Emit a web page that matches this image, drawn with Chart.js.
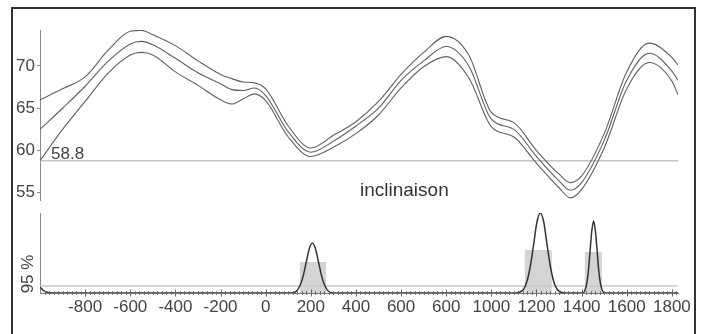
<!DOCTYPE html>
<html>
<head>
<meta charset="utf-8">
<script src="https://cdn.jsdelivr.net/npm/chart.js@4.4.0/dist/chart.umd.min.js"></script>
<style>
  html, body { margin: 0; padding: 0; background: #fff; }
  #wrap { position: relative; width: 706px; height: 334px; overflow: hidden; }
  #frame { position: absolute; left: 11px; top: 7px; width: 681px; height: 340px; border: 2px solid #333; }
  canvas { position: absolute; left: 0; top: 0; }
</style>
</head>
<body>
<div id="wrap">
  <div id="frame"></div>
  <canvas id="incChart" width="706" height="334"></canvas>
  <canvas id="probChart" width="706" height="334"></canvas>
</div>
<script>
// ages (years) where the inclination curve was read
const ages = [-1000, -900, -800, -700, -600, -550, -500, -400, -300, -200, -150, -100, -50, 0,
  100, 200, 300, 400, 500, 600, 700, 800, 900, 1000, 1100, 1200, 1300, 1350, 1400, 1500, 1600, 1700, 1800, 1827];
const incUpper = [66.0, 67.3, 68.7, 71.8, 74.1, 74.2, 73.7, 72.4, 70.6, 69.0, 68.5, 68.1, 68.0, 67.3,
  62.9, 60.3, 61.8, 63.4, 65.8, 69.0, 71.6, 73.5, 71.3, 64.5, 63.3, 60.0, 57.2, 56.2, 57.0, 62.0, 69.3, 72.7, 71.0, 70.1];
const incMean = [62.5, 65.0, 67.6, 70.5, 72.6, 72.9, 72.5, 70.9, 69.2, 67.9, 67.2, 67.1, 67.4, 66.5,
  62.2, 59.8, 61.1, 62.9, 65.0, 68.3, 70.6, 72.3, 70.0, 63.7, 62.5, 59.3, 56.4, 55.3, 56.2, 61.2, 68.3, 71.5, 69.4, 68.3];
const incLower = [58.8, 62.5, 65.8, 69.1, 71.3, 71.6, 71.3, 69.3, 67.7, 66.0, 65.5, 66.1, 66.7, 65.9,
  61.6, 59.3, 60.4, 62.0, 64.2, 67.4, 69.9, 71.1, 68.6, 62.8, 61.6, 58.5, 55.6, 54.4, 55.4, 60.3, 67.3, 70.4, 68.2, 66.6];
const refInclination = 58.8;

// probability density of the dating
const probAges = [-1000, -985, -965, -940,
  117, 137, 151, 165, 179, 193, 207, 221, 235, 249, 263, 277, 297,
  1107, 1127, 1142, 1157, 1172, 1187, 1202, 1217, 1232, 1247, 1262, 1277, 1292, 1307, 1327,
  1405, 1415, 1423, 1430, 1438, 1445, 1453, 1461, 1468, 1476, 1483, 1491, 1501, 1827];
const probDensity = [6, 2.5, 0.5, 0,
  0, 2, 7, 16, 30, 44, 50, 44, 30, 16, 7, 2, 0,
  0, 1, 3.5, 11, 26, 48, 71, 80, 71, 48, 26, 11, 3.5, 1, 0,
  0, 3, 10, 22, 44, 62, 72, 62, 44, 22, 10, 3, 0, 0];
const level95 = 7;
const intervalFrom = [152, 1147, 1413];
const intervalTo = [268, 1268, 1490];
const intervalHeight = [31, 43, 41];

const tickValues = [-800, -600, -400, -200, 0, 200, 400, 600, 800, 1000, 1200, 1400, 1600, 1800];
const tickLabels = ['-800', '-600', '-400', '-200', '0', '200', '400', '600', '600', '1000', '1200', '1400', '1600', '1800'];

const X_MIN = -1000, X_MAX = 1827;
const FONT = '"Liberation Sans", Arial, sans-serif';
const TEXT = '#444';

const toPoints = (xs, ys) => xs.map((x, i) => ({ x, y: ys[i] }));

const curve = (ys) => ({
  data: toPoints(ages, ys),
  borderColor: '#606060',
  borderWidth: 1.1,
  cubicInterpolationMode: 'monotone',
  order: 1
});

const incLabels = {
  id: 'incLabels',
  afterDraw(chart) {
    const ctx = chart.ctx;
    const y = chart.scales.y;
    ctx.save();
    ctx.fillStyle = TEXT;
    ctx.font = '17px ' + FONT;
    ctx.textBaseline = 'alphabetic';
    ctx.fillText(String(refInclination), chart.chartArea.left + 11, y.getPixelForValue(refInclination) - 2);
    ctx.font = '19px ' + FONT;
    ctx.fillStyle = '#333';
    ctx.fillText('inclinaison', 360, 196);
    ctx.restore();
  }
};

new Chart(document.getElementById('incChart'), {
  type: 'line',
  data: {
    datasets: [
      curve(incUpper),
      curve(incMean),
      curve(incLower),
      {
        data: [{ x: X_MIN, y: refInclination }, { x: X_MAX, y: refInclination }],
        borderColor: '#c4c4c4',
        borderWidth: 1.5,
        order: 5
      }
    ]
  },
  options: {
    responsive: false,
    animation: false,
    layout: { padding: { top: 30, bottom: 134, right: 28, left: 0 } },
    plugins: { legend: { display: false }, tooltip: { enabled: false } },
    elements: { point: { radius: 0 } },
    scales: {
      x: { type: 'linear', min: X_MIN, max: X_MAX, display: false },
      y: {
        min: 54.15,
        max: 74.25,
        afterFit: (s) => { s.width = 40; },
        ticks: { stepSize: 5, includeBounds: false, padding: 2, color: TEXT, font: { size: 17, family: FONT } },
        grid: { drawOnChartArea: false, tickLength: 3, color: '#888' },
        border: { color: '#888' }
      }
    }
  },
  plugins: [incLabels]
});

// minor/major tick marks crossing the time axis, tick labels and the "95 %" caption
const probDecor = {
  id: 'probDecor',
  afterDraw(chart) {
    const ctx = chart.ctx;
    const xs = chart.scales.x;
    const base = chart.chartArea.bottom;
    ctx.save();
    ctx.strokeStyle = '#666';
    ctx.lineWidth = 1;
    for (let v = X_MIN + 20; v <= 1820; v += 20) {
      const px = Math.round(xs.getPixelForValue(v)) + 0.5;
      const len = v % 200 === 0 ? 3.5 : 1.8;
      ctx.beginPath();
      ctx.moveTo(px, base - len);
      ctx.lineTo(px, base + len);
      ctx.stroke();
    }
    ctx.fillStyle = TEXT;
    ctx.font = '17px ' + FONT;
    ctx.textAlign = 'center';
    ctx.textBaseline = 'middle';
    tickValues.forEach((v, i) => {
      ctx.fillText(tickLabels[i], xs.getPixelForValue(v), base + 14);
    });
    ctx.translate(28, 274);
    ctx.rotate(-Math.PI / 2);
    ctx.fillText('95 %', 0, 0);
    ctx.restore();
  }
};

const intervals = intervalFrom.map((from, i) => ({
  data: [{ x: from, y: intervalHeight[i] }, { x: intervalTo[i], y: intervalHeight[i] }],
  borderWidth: 0,
  borderColor: 'rgba(0,0,0,0)',
  backgroundColor: '#d4d4d4',
  fill: 'origin',
  order: 5
}));

new Chart(document.getElementById('probChart'), {
  type: 'line',
  data: {
    datasets: [
      {
        data: toPoints(probAges, probDensity),
        borderColor: '#333',
        borderWidth: 1.5,
        cubicInterpolationMode: 'monotone',
        order: 1
      },
      {
        data: [{ x: X_MIN, y: level95 }, { x: X_MAX, y: level95 }],
        borderColor: '#c8c8c8',
        borderWidth: 1.5,
        order: 3
      },
      ...intervals
    ]
  },
  options: {
    responsive: false,
    animation: false,
    layout: { padding: { top: 213, bottom: 0, right: 28, left: 0 } },
    plugins: { legend: { display: false }, tooltip: { enabled: false } },
    elements: { point: { radius: 0 } },
    scales: {
      x: {
        type: 'linear',
        min: X_MIN,
        max: X_MAX,
        afterFit: (s) => { s.height = 41; },
        ticks: { display: false },
        grid: { display: false, drawTicks: false },
        border: { color: '#777', width: 1 }
      },
      y: {
        min: 0,
        max: 80,
        afterFit: (s) => { s.width = 40; },
        ticks: { display: false },
        grid: { display: false, drawTicks: false },
        border: { color: '#888' }
      }
    }
  },
  plugins: [probDecor]
});
</script>
</body>
</html>
